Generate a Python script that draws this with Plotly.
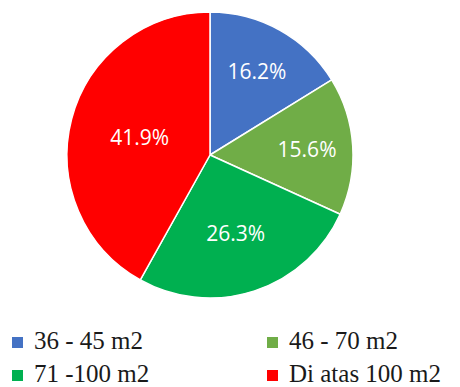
import plotly.graph_objects as go

categories = ["36 - 45 m2", "46 - 70 m2", "71 -100 m2", "Di atas 100 m2"]
values = [16.2, 15.6, 26.3, 41.9]
colors = ["#4472C4", "#70AD47", "#00B050", "#FF0000"]

W, H = 460, 387
cx, cy, r = 210, 155, 143

fig = go.Figure(go.Pie(
    labels=categories,
    values=values,
    sort=False,
    direction="clockwise",
    rotation=0,
    marker=dict(colors=colors, line=dict(color="white", width=1.5)),
    texttemplate="%{value:.1f}%",
    textposition="inside",
    insidetextorientation="horizontal",
    insidetextfont=dict(family="Open Sans", size=21, color="white"),
    hoverinfo="label+value",
    showlegend=False,
    domain=dict(x=[(cx - r) / W, (cx + r) / W], y=[1 - (cy + r) / H, 1 - (cy - r) / H]),
))

# legend drawn as layout shapes + text (2 columns x 2 rows)
col_x = [17.5, 272.5]    # square centres (px)
row_y = [342.5, 375.5]   # row centres (px)
text_dx = 14             # gap from square centre to text start
sq = 5.5
shapes, annotations = [], []
for i, (name, col) in enumerate(zip(categories, colors)):
    x = col_x[i % 2]
    y = row_y[i // 2]
    shapes.append(dict(type="rect", xref="paper", yref="paper",
                       x0=(x - sq) / W, x1=(x + sq) / W,
                       y0=1 - (y + sq) / H, y1=1 - (y - sq) / H,
                       fillcolor=col, line=dict(width=0)))
    annotations.append(dict(text=name, xref="paper", yref="paper",
                            x=(x + text_dx) / W, y=1 - (y - 2.5) / H,
                            xanchor="left", yanchor="middle", showarrow=False,
                            font=dict(family="Liberation Serif", size=25, color="#1a1a1a")))

fig.update_layout(
    width=W, height=H,
    margin=dict(l=0, r=0, t=0, b=0),
    paper_bgcolor="white",
    plot_bgcolor="white",
    showlegend=False,
    shapes=shapes,
    annotations=annotations,
)

fig.write_html("out.html")
